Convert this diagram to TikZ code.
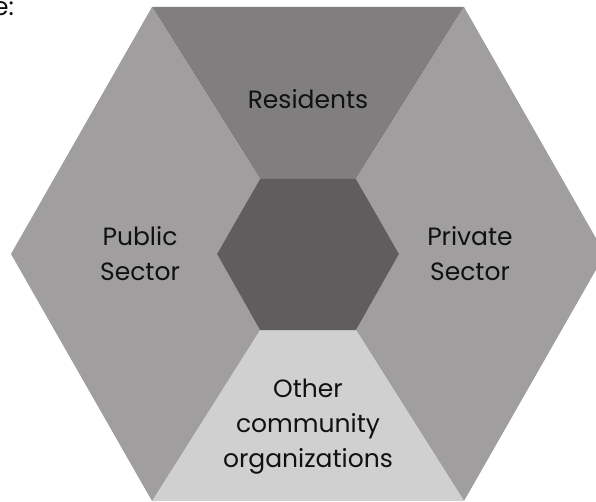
\documentclass[tikz,border=0pt]{standalone}
\usepackage{fontspec}
\setmainfont{Poppins}
\definecolor{topgray}{HTML}{807E7F}
\definecolor{sidegray}{HTML}{A09E9F}
\definecolor{lowgray}{HTML}{D0D0D0}
\definecolor{coregray}{HTML}{5F5D5E}
\definecolor{inkgray}{HTML}{111111}
\tikzset{
  part/.style={draw=none},
  lbl/.style={text=inkgray,align=center,inner sep=0pt,
    font=\fontsize{25}{35}\selectfont}
}
\begin{document}
\begin{tikzpicture}[x=1pt,y=-1pt]
        \useasboundingbox (0,0) rectangle (596,502);
        % outer corners
        \coordinate (A) at (152,7);
        \coordinate (B) at (464,7);
        \coordinate (C) at (605,254);
        \coordinate (D) at (464,501);
        \coordinate (E) at (152,501);
        \coordinate (F) at (11,254);
        % inner corners
        \coordinate (a) at (260,179);
        \coordinate (b) at (356,179);
        \coordinate (c) at (399,254);
        \coordinate (d) at (356,330);
        \coordinate (e) at (260,330);
        \coordinate (f) at (217,254);
        \fill [topgray] (A) -- (B) -- (b) -- (a) -- cycle;
        \fill [sidegray] (B) -- (C) -- (D) -- (d) -- (c) -- (b) -- cycle;
        \fill [lowgray] (D) -- (E) -- (e) -- (d) -- cycle;
        \fill [sidegray] (E) -- (F) -- (A) -- (a) -- (f) -- (e) -- cycle;
        \fill [coregray] (a) -- (b) -- (c) -- (d) -- (e) -- (f) -- cycle;
        \node[lbl] (residents) at (308,99) {Residents};
        \node[lbl] (public) at (140,254) {Public\\Sector};
        \node[lbl] (private) at (470,254) {Private\\Sector};
        \node[lbl] (other) at (308,427) {Other\\community\\organizations};
        \node[lbl,anchor=base west] (cut) at (-7,16) {e:};
    \end{tikzpicture}
\end{document}
